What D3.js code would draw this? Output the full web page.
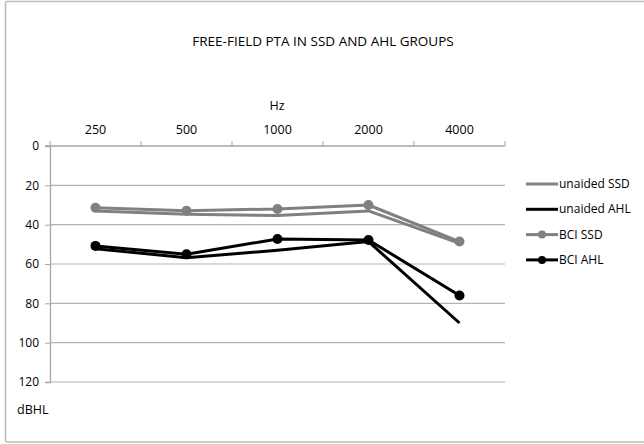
<!DOCTYPE html>
<html><head><meta charset="utf-8">
<script src="https://cdn.jsdelivr.net/npm/d3@7/dist/d3.min.js"></script>
<style>body{margin:0;background:#fff}svg{display:block}text{font-family:"Open Sans",sans-serif;fill:#000}</style>
</head><body>
<svg id="c" width="644" height="444"></svg>
<script>
const categories = ["250","500","1000","2000","4000"];
const yTicks = [0,20,40,60,80,100,120];
const unaidedSSD = [33,34.7,35.4,33,49.5];
const unaidedAHL = [52.2,56.8,53,48.6,90];
const bciSSD = [31.4,32.9,32,30,48.6];
const bciAHL = [50.8,55,47.3,47.8,76];
const series = [
  {name:"unaided SSD", values:unaidedSSD, color:"#808080", marker:false},
  {name:"unaided AHL", values:unaidedAHL, color:"#000000", marker:false},
  {name:"BCI SSD", values:bciSSD, color:"#808080", marker:true},
  {name:"BCI AHL", values:bciAHL, color:"#000000", marker:true}
];

const svg = d3.select("#c");
svg.append("rect").attr("x",5.5).attr("y",1.5).attr("width",660).attr("height",440.5)
  .attr("fill","#fff").attr("stroke","#bdbdbd").attr("stroke-width",1.6).attr("rx",2);

const L=50,R=505,T=146,B=382;
const x = d3.scaleBand().domain(categories).range([L,R]);
const y = d3.scaleLinear().domain([0,120]).range([T,B]);

// gridlines
svg.append("g").selectAll("line").data(yTicks.filter(d=>d>0)).join("line")
  .attr("x1",L).attr("x2",R).attr("y1",d=>y(d)).attr("y2",d=>y(d))
  .attr("stroke","#b3b3b3").attr("stroke-width",1.2);

// y axis
const ya = svg.append("g").attr("transform",`translate(${L},0)`)
  .call(d3.axisLeft(y).tickValues(yTicks).tickSize(5).tickPadding(6));
ya.select(".domain").attr("stroke","#a6a6a6").attr("stroke-width",1.3);
ya.selectAll(".tick line").attr("stroke","#a6a6a6");
ya.selectAll(".tick text").style("font-size","12px").style("font-family","'Open Sans',sans-serif");

// top x axis
const xa = svg.append("g").attr("transform",`translate(0,${T})`)
  .call(d3.axisTop(x).tickSize(0).tickPadding(12));
xa.select(".domain").remove();
xa.append("line").attr("x1",L-5).attr("x2",R).attr("y1",0).attr("y2",0).attr("stroke","#a6a6a6").attr("stroke-width",1.3);
xa.selectAll(".tick text").style("font-size","12.5px").style("font-family","'Open Sans',sans-serif");
const bounds = categories.map(c=>x(c)).concat([R]);
xa.selectAll(".bt").data(bounds).join("line").attr("class","bt")
  .attr("x1",d=>d).attr("x2",d=>d).attr("y1",-5).attr("y2",0).attr("stroke","#a6a6a6");

// titles
svg.append("text").attr("x",323).attr("y",46).attr("text-anchor","middle").style("font-size","13.5px")
  .text("FREE-FIELD PTA IN SSD AND AHL GROUPS");
svg.append("text").attr("x",277).attr("y",110).attr("text-anchor","middle").style("font-size","12.5px").text("Hz");
svg.append("text").attr("x",17).attr("y",414).style("font-size","12.5px").text("dBHL");

// lines
const line = d3.line().x((d,i)=>x(categories[i])+x.bandwidth()/2).y(d=>y(d));
series.forEach(s=>{
  svg.append("path").datum(s.values).attr("d",line).attr("fill","none")
    .attr("stroke",s.color).attr("stroke-width",3).attr("stroke-linejoin","round");
  if(s.marker){
    svg.append("g").selectAll("circle").data(s.values).join("circle")
      .attr("cx",(d,i)=>x(categories[i])+x.bandwidth()/2).attr("cy",d=>y(d)).attr("r",5)
      .attr("fill",s.color);
  }
});

// legend
const lg = svg.append("g");
series.forEach((s,i)=>{
  const yy = 184 + i*25.3;
  lg.append("line").attr("x1",526).attr("x2",558).attr("y1",yy).attr("y2",yy)
    .attr("stroke",s.color).attr("stroke-width",3);
  if(s.marker) lg.append("circle").attr("cx",542).attr("cy",yy).attr("r",4).attr("fill",s.color);
  lg.append("text").attr("x",559).attr("y",yy+4).style("font-size","12px").text(s.name);
});
</script>
</body></html>
